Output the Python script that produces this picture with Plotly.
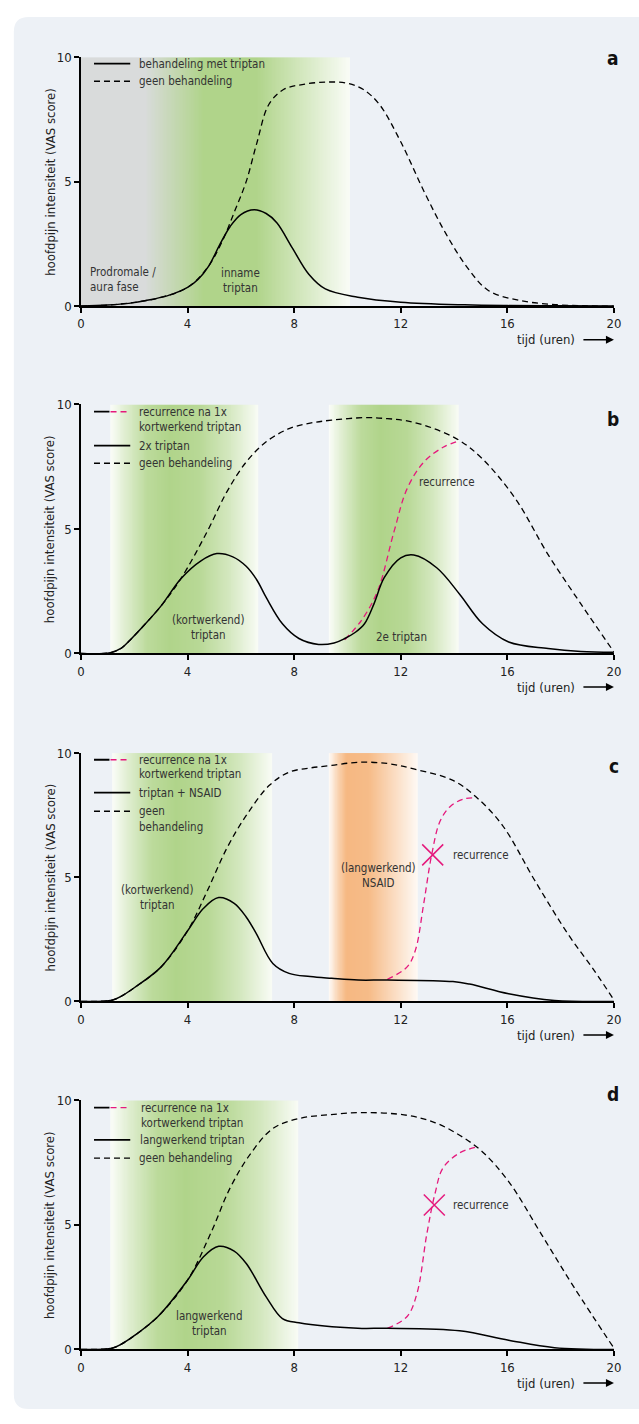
import plotly.graph_objects as go

# ---------------- data ----------------
x_ticks = [0, 4, 8, 12, 16, 20]
y_ticks = [0, 5, 10]
panel_letters = ["a", "b", "c", "d"]

# panel a
a_none_x = [0, 1, 2, 3, 4, 4.75, 5.3, 5.8, 6.2, 6.6, 7.05, 7.6, 8.3, 9.2, 10.0, 10.6, 11.2, 12.0, 12.9, 13.7, 14.5, 15.3, 16.5, 17.8, 19, 20]
a_none_y = [0, 0.04, 0.15, 0.35, 0.75, 1.55, 2.6, 3.9, 5.0, 6.55, 8.1, 8.7, 8.9, 9.0, 8.95, 8.7, 8.1, 6.6, 4.55, 2.9, 1.55, 0.62, 0.22, 0.06, 0.01, 0]
a_trip_x = [0, 1, 2, 2.4, 3.26, 4.0, 4.4, 4.8, 5.2, 5.6, 6.0, 6.5, 6.95, 7.35, 7.93, 8.55, 9.17, 10.39, 12, 14.4, 16, 18, 20]
a_trip_y = [0, 0.04, 0.14, 0.22, 0.42, 0.75, 1.08, 1.62, 2.45, 3.2, 3.68, 3.87, 3.72, 3.35, 2.34, 1.28, 0.69, 0.36, 0.16, 0.05, 0.02, 0.01, 0]

# panel b
b_none_x = [0, 1.1, 1.5, 1.9, 2.3, 3.0, 3.75, 4.74, 5.48, 6.21, 6.95, 7.81, 8.6, 9.41, 10.64, 11.5, 12.24, 13.2, 14.21, 15.07, 16.3, 17.53, 18.76, 20]
b_none_y = [0, 0.03, 0.2, 0.6, 1.05, 1.9, 3.0, 4.9, 6.5, 7.7, 8.5, 9.03, 9.25, 9.37, 9.47, 9.43, 9.34, 9.05, 8.55, 7.81, 6.22, 3.97, 1.99, 0.06]
b_trip_x = [0, 1.1, 1.5, 1.9, 2.3, 3.0, 3.75, 4.49, 5.1, 5.7, 6.2, 6.6, 6.95, 7.56, 8.18, 8.92, 9.5, 9.9, 10.3, 10.64, 11.0, 11.38, 12.0, 12.49, 13.35, 14.21, 15.07, 16.05, 17.53, 18.76, 20]
b_trip_y = [0, 0.03, 0.2, 0.6, 1.05, 1.9, 3.0, 3.71, 4.01, 3.88, 3.5, 2.95, 2.25, 1.19, 0.6, 0.36, 0.42, 0.6, 0.85, 1.19, 2.0, 3.04, 3.84, 3.95, 3.44, 2.38, 1.19, 0.46, 0.2, 0.08, 0.05]
b_rec_x = [9.9, 10.52, 11.13, 11.75, 12.24, 12.86, 13.59, 14.21]
b_rec_y = [0.55, 1.32, 2.5, 4.9, 6.62, 7.68, 8.28, 8.55]

# panel c
c_none_x = [0, 1.17, 1.5, 2.0, 3.01, 4.0, 4.74, 5.48, 6.21, 7.07, 7.81, 8.6, 9.41, 10.4, 11.5, 12.49, 13.96, 14.82, 15.81, 17.04, 18.27, 19.25, 20]
c_none_y = [0, 0.05, 0.2, 0.55, 1.39, 2.84, 4.45, 6.18, 7.5, 8.7, 9.23, 9.4, 9.5, 9.63, 9.58, 9.36, 8.9, 8.24, 7.1, 4.85, 2.72, 1.26, 0.06]
c_trip_x = [0, 1.17, 1.5, 2.0, 3.01, 4.0, 4.6, 5.17, 5.75, 6.2, 6.58, 7.2, 7.81, 8.6, 9.41, 10.4, 11.5, 13.96, 14.58, 16.05, 17.77, 20]
c_trip_y = [0, 0.05, 0.2, 0.55, 1.39, 2.84, 3.75, 4.18, 3.95, 3.4, 2.73, 1.53, 1.13, 1.0, 0.93, 0.86, 0.86, 0.8, 0.7, 0.31, 0.04, 0]
c_rec_x = [11.5, 12.24, 12.55, 12.86, 13.16, 13.47, 13.84, 14.33, 14.82]
c_rec_y = [0.89, 1.39, 2.06, 3.92, 5.9, 7.24, 7.83, 8.14, 8.2]
c_cross = (13.2, 5.9)

# panel d
d_none_x = [0, 1.17, 1.5, 2.0, 2.89, 4.0, 4.86, 5.6, 6.34, 7.2, 8.18, 9.3, 10.64, 12.24, 13.3, 14.21, 15.07, 16.05, 17.28, 18.5, 20]
d_none_y = [0, 0.05, 0.2, 0.55, 1.32, 2.78, 4.64, 6.49, 7.82, 8.87, 9.27, 9.42, 9.51, 9.4, 9.1, 8.6, 7.93, 6.74, 4.62, 2.5, 0.05]
d_trip_x = [0, 1.17, 1.5, 2.0, 2.89, 4.0, 4.6, 5.17, 5.75, 6.21, 6.95, 7.56, 8.18, 10.39, 11.5, 14.21, 16.05, 17.77, 20]
d_trip_y = [0, 0.05, 0.2, 0.55, 1.32, 2.78, 3.72, 4.14, 3.95, 3.44, 2.11, 1.24, 1.07, 0.85, 0.85, 0.75, 0.37, 0.07, 0]
d_rec_x = [11.5, 12.24, 12.61, 12.98, 13.28, 13.59, 14.21, 14.82]
d_rec_y = [0.85, 1.32, 2.25, 4.64, 6.23, 7.29, 7.89, 8.12]
d_cross = (13.26, 5.8)

# treatment / phase bands (hours)
a_aura_end = 2.4
a_band = (0, 10.1)
b_bands = [(1.1, 6.67), (9.3, 14.18)]
c_band_green = (1.17, 7.17)
c_band_orange = (9.3, 12.63)
d_band = (1.1, 8.14)

# ---------------- style ----------------
FONT = "DejaVu Sans Condensed, Liberation Sans Narrow, Arial Narrow, sans-serif"
BG = "#edf1f6"
PINK = "#e5197c"
TXT = "#333333"
GREEN = (176, 212, 138)
ORANGE = (246, 184, 130)
GRAY = (217, 219, 219)
WHITE = (255, 255, 255)
DASH = "6px,4px"
FS = 11.5

W, H = 639, 1424
X0PX, X1PX = 78.3, 620.6
PLOT_TOP = [50.7, 401.7, 754.0, 1105.0]
PLOT_BOT = [302.3, 653.3, 1005.0, 1356.7]


def mix(c1, c2, t):
    return tuple(c1[i] + (c2[i] - c1[i]) * t for i in range(3))


def rgb(c):
    return "rgb(%d,%d,%d)" % tuple(int(round(v)) for v in c)


def interp(prof, f):
    for (f0, v0), (f1, v1) in zip(prof[:-1], prof[1:]):
        if f0 <= f <= f1:
            return v0 + (v1 - v0) * (f - f0) / (f1 - f0 if f1 > f0 else 1)
    return prof[-1][1]


GREEN_PROF = [(0, 0.05), (0.1, 0.4), (0.25, 0.85), (0.4, 1.0), (0.6, 0.9), (0.8, 0.55), (1, 0.08)]
ORANGE_PROF = [(0, 0.05), (0.1, 0.6), (0.2, 1.0), (0.45, 0.95), (0.7, 0.55), (1, 0.08)]

fig = go.Figure()


def add_band(xa, ya, x0, x1, color_fn, n=160):
    edges = [x0 + (x1 - x0) * k / n for k in range(n + 1)]
    cols = []
    for k in range(n):
        xc = (edges[k] + edges[k + 1]) / 2
        cols.append(rgb(color_fn(xc)))
    cs = [[k / (n - 1), cols[k]] for k in range(n)]
    fig.add_trace(go.Heatmap(x=edges, y=[0, 10], z=[list(range(n))], zmin=0, zmax=n - 1,
                             colorscale=cs, showscale=False, hoverinfo="skip",
                             xaxis=xa, yaxis=ya))


def prof_color(base, prof, x0, x1):
    return lambda x: mix(WHITE, base, interp(prof, (x - x0) / (x1 - x0)))


def a_color(x):
    if x <= a_aura_end:
        return GRAY
    if x <= 4.6:
        return mix(GRAY, GREEN, (x - a_aura_end) / (4.6 - a_aura_end))
    if x <= 6.6:
        return GREEN
    return mix(GREEN, WHITE, min(1, (x - 6.6) / (a_band[1] - 6.6)) * 0.93)


def add_line(xa, ya, xs, ys, color="black", dash=None, width=1.5):
    fig.add_trace(go.Scatter(x=xs, y=ys, mode="lines", hoverinfo="skip",
                             line=dict(color=color, width=width, dash=dash, shape="spline", smoothing=1.0),
                             xaxis=xa, yaxis=ya))


def add_cross(xa, ya, pt):
    fig.add_trace(go.Scatter(x=[pt[0]], y=[pt[1]], mode="markers", hoverinfo="skip",
                             marker=dict(symbol="x-thin", size=21, color=PINK,
                                         line=dict(width=1.5, color=PINK)),
                             xaxis=xa, yaxis=ya))


annotations = []
shapes = []


def txt(xa, ya, x, y, text, size=FS, xanchor="center", align="center", color=TXT, **kw):
    annotations.append(dict(x=x, y=y, xref=xa, yref=ya, text=text, showarrow=False,
                            xanchor=xanchor, align=align, font=dict(size=size, color=color, family=FONT), **kw))


def leg_line(xa, ya, x0, x1, y, color="black", dash=None):
    line = dict(color=color, width=1.8 if dash is None else 1.4)
    if dash:
        line["dash"] = dash
    shapes.append(dict(type="line", xref=xa, yref=ya, x0=x0, x1=x1, y0=y, y1=y, line=line))


axes = []
for i in range(4):
    xa = "x" if i == 0 else "x%d" % (i + 1)
    ya = "y" if i == 0 else "y%d" % (i + 1)
    axes.append((xa, ya))

# bands
add_band(*axes[0], a_band[0], a_band[1], a_color, n=200)
for b0, b1 in b_bands:
    add_band(*axes[1], b0, b1, prof_color(GREEN, GREEN_PROF, b0, b1))
add_band(*axes[2], c_band_green[0], c_band_green[1], prof_color(GREEN, GREEN_PROF, *c_band_green))
add_band(*axes[2], c_band_orange[0], c_band_orange[1], prof_color(ORANGE, ORANGE_PROF, *c_band_orange))
add_band(*axes[3], d_band[0], d_band[1], prof_color(GREEN, GREEN_PROF, *d_band))

# curves
add_line(*axes[0], a_none_x, a_none_y, dash=DASH, width=1.3)
add_line(*axes[0], a_trip_x, a_trip_y)
add_line(*axes[1], b_none_x, b_none_y, dash=DASH, width=1.3)
add_line(*axes[1], b_rec_x, b_rec_y, color=PINK, dash=DASH, width=1.3)
add_line(*axes[1], b_trip_x, b_trip_y)
add_line(*axes[2], c_none_x, c_none_y, dash=DASH, width=1.3)
add_line(*axes[2], c_rec_x, c_rec_y, color=PINK, dash=DASH, width=1.3)
add_line(*axes[2], c_trip_x, c_trip_y)
add_cross(*axes[2], c_cross)
add_line(*axes[3], d_none_x, d_none_y, dash=DASH, width=1.3)
add_line(*axes[3], d_rec_x, d_rec_y, color=PINK, dash=DASH, width=1.3)
add_line(*axes[3], d_trip_x, d_trip_y)
add_cross(*axes[3], d_cross)

# legends
LX0, LX1, LXM, LT = 0.49, 1.85, 1.07, 2.09
# a
xa, ya = axes[0]
leg_line(xa, ya, LX0, LX1, 9.74)
leg_line(xa, ya, LX0, LX1, 9.03, dash=DASH)
txt(xa, ya, LT, 9.74, "behandeling met triptan", xanchor="left")
txt(xa, ya, LT, 9.03, "geen behandeling", xanchor="left")
# b
xa, ya = axes[1]
leg_line(xa, ya, LX0, LXM, 9.71)
leg_line(xa, ya, LXM + 0.04, LX1, 9.71, color=PINK, dash=DASH)
leg_line(xa, ya, LX0, LX1, 8.35)
leg_line(xa, ya, LX0, LX1, 7.64, dash=DASH)
txt(xa, ya, LT, 9.71, "recurrence na 1x", xanchor="left")
txt(xa, ya, LT, 9.10, "kortwerkend triptan", xanchor="left")
txt(xa, ya, LT, 8.35, "2x triptan", xanchor="left")
txt(xa, ya, LT, 7.64, "geen behandeling", xanchor="left")
# c
xa, ya = axes[2]
leg_line(xa, ya, LX0, LXM, 9.73)
leg_line(xa, ya, LXM + 0.04, LX1, 9.73, color=PINK, dash=DASH)
leg_line(xa, ya, LX0, LX1, 8.41)
leg_line(xa, ya, LX0, LX1, 7.66, dash=DASH)
txt(xa, ya, LT, 9.73, "recurrence na 1x", xanchor="left")
txt(xa, ya, LT, 9.14, "kortwerkend triptan", xanchor="left")
txt(xa, ya, LT, 8.41, "triptan + NSAID", xanchor="left")
txt(xa, ya, LT, 7.66, "geen", xanchor="left")
txt(xa, ya, LT, 7.01, "behandeling", xanchor="left")
# d
xa, ya = axes[3]
leg_line(xa, ya, LX0, LXM, 9.71)
leg_line(xa, ya, LXM + 0.04, LX1, 9.71, color=PINK, dash=DASH)
leg_line(xa, ya, LX0, LX1, 8.41)
leg_line(xa, ya, LX0, LX1, 7.68, dash=DASH)
txt(xa, ya, LT + 0.1, 9.71, "recurrence na 1x", xanchor="left")
txt(xa, ya, LT + 0.1, 9.11, "kortwerkend triptan", xanchor="left")
txt(xa, ya, LT + 0.05, 8.41, "langwerkend triptan", xanchor="left")
txt(xa, ya, LT, 7.68, "geen behandeling", xanchor="left")

# in-plot labels
txt(*axes[0], 0.28, 1.05, "Prodromale /<br>aura fase", xanchor="left", align="left")
txt(*axes[0], 6.0, 1.02, "inname<br>triptan")
txt(*axes[1], 4.76, 1.06, "(kortwerkend)<br>triptan")
txt(*axes[1], 13.72, 6.9, "recurrence")
txt(*axes[1], 12.02, 0.66, "2e triptan")
txt(*axes[2], 2.87, 4.2, "(kortwerkend)<br>triptan")
txt(*axes[2], 11.17, 5.06, "(langwerkend)<br>NSAID")
txt(*axes[2], 13.87, 5.9, "recurrence", xanchor="left")
txt(*axes[3], 4.82, 1.06, "langwerkend<br>triptan")
txt(*axes[3], 13.87, 5.8, "recurrence", xanchor="left")

layout_axes = {}
for i, (xa, ya) in enumerate(axes):
    top, bot = PLOT_TOP[i], PLOT_BOT[i]
    ydom = [(H - bot) / H, (H - top) / H]
    xdom = [X0PX / W, X1PX / W]
    xkey = "xaxis" if i == 0 else "xaxis%d" % (i + 1)
    ykey = "yaxis" if i == 0 else "yaxis%d" % (i + 1)
    common = dict(showgrid=False, zeroline=False, showline=True, linecolor="black", linewidth=1.5,
                  ticks="outside", ticklen=5, tickwidth=1.5, tickcolor="black",
                  tickfont=dict(size=13, color="#222", family=FONT), fixedrange=True)
    layout_axes[xkey] = dict(domain=xdom, range=[0, 20], tickvals=x_ticks, anchor=ya, **common)
    layout_axes[ykey] = dict(domain=ydom, range=[0, 10], tickvals=y_ticks, anchor=xa, **common)
    # y title
    annotations.append(dict(x=47 / W, y=0.5, xref="paper", yref=ya + " domain", text="hoofdpijn intensiteit (VAS score)",
                            textangle=-90, xanchor="center", yanchor="middle", showarrow=False,
                            font=dict(size=13, color="#222", family=FONT)))
    # x title + arrow
    hpx = bot - top
    annotations.append(dict(x=18.62, y=-34 / hpx, xref=xa, yref=ya + " domain", text="tijd (uren)",
                            showarrow=False, xanchor="right", yanchor="middle",
                            font=dict(size=13, color="#222", family=FONT)))
    annotations.append(dict(x=20, y=-34 / hpx, xref=xa, yref=ya + " domain", ax=-32, ay=0, text="",
                            showarrow=True, arrowhead=2, arrowsize=1, arrowwidth=1.6, arrowcolor="black"))

# panel letters
letter_y = [38.3, 403.3, 766.7, 1111.7]
for i, L in enumerate(panel_letters):
    annotations.append(dict(x=628.3 / W, y=(H - letter_y[i]) / H, xref="paper", yref="paper", text="<b>%s</b>" % L,
                            showarrow=False, font=dict(size=19, color="#111", family=FONT)))

# rounded background panel
r = 15
x0, x1, y0, y1 = 10, 660, 10, 1417
def px(x): return x / W
def py(y): return (H - y) / H
path = ("M %f,%f L %f,%f Q %f,%f %f,%f L %f,%f L %f,%f L %f,%f Q %f,%f %f,%f Z" % (
    px(x0), py(y0 + r), px(x0), py(y1 - r), px(x0), py(y1), px(x0 + r), py(y1),
    px(x1), py(y1), px(x1), py(y0), px(x0 + r), py(y0), px(x0), py(y0), px(x0), py(y0 + r)))
shapes.insert(0, dict(type="path", xref="paper", yref="paper", path=path, fillcolor=BG, line=dict(width=0), layer="below"))

fig.update_layout(autosize=True, margin=dict(l=0, r=0, t=0, b=0), showlegend=False,
                  paper_bgcolor="white", plot_bgcolor="rgba(0,0,0,0)",
                  font=dict(family=FONT, color=TXT), annotations=annotations, shapes=shapes, **layout_axes)

post = ("document.documentElement.style.margin='0';document.body.style.margin='0';"
        "document.body.style.padding='0';document.body.style.overflow='hidden';"
        "document.documentElement.style.overflow='hidden';"
        "var gd=document.getElementById('{plot_id}');gd.style.position='fixed';gd.style.left='0px';gd.style.top='0px';"
        "gd.style.width='100vw';gd.style.height='100vh';Plotly.Plots.resize(gd);")
fig.write_html("out.html", config={"displayModeBar": False, "responsive": True},
               default_width="100vw", default_height="100vh", post_script=post)
